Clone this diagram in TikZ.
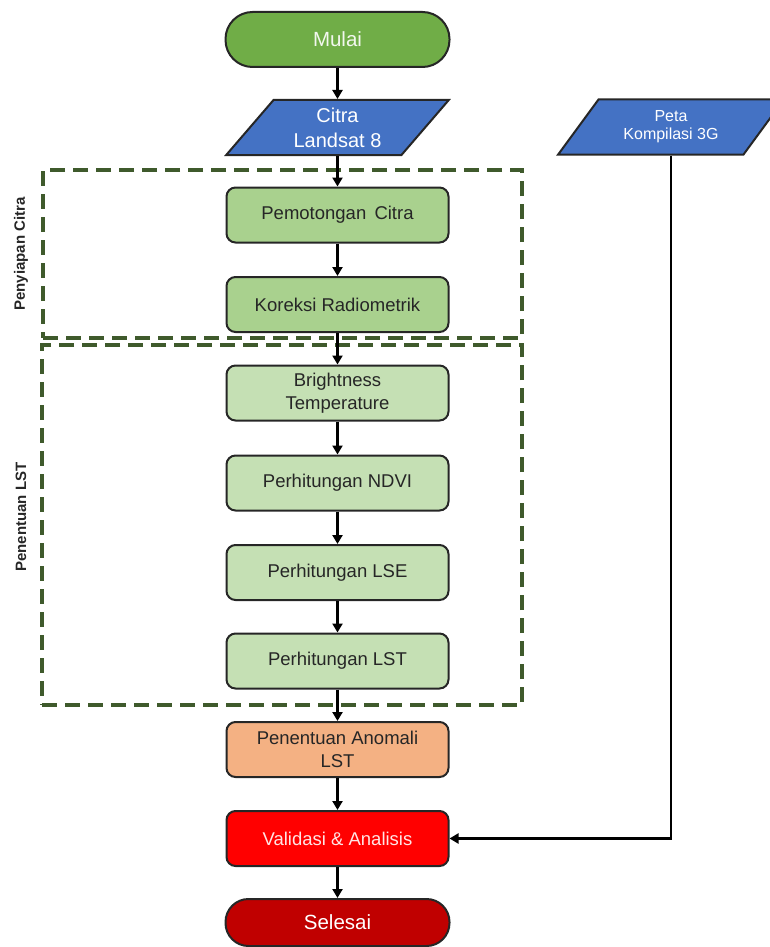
\documentclass[tikz,border=0pt]{standalone}
\usepackage{fontspec}
\setmainfont{Liberation Sans}
\usetikzlibrary{shapes.geometric,arrows.meta,calc}
\definecolor{startgreen}{HTML}{70AD47}
\definecolor{inblue}{HTML}{4472C4}
\definecolor{prepgreen}{HTML}{A9D18E}
\definecolor{lstgreen}{HTML}{C5E0B4}
\definecolor{anomorange}{HTML}{F4B183}
\definecolor{valred}{HTML}{FF0000}
\definecolor{endred}{HTML}{C00000}
\definecolor{dashgreen}{HTML}{3F5A2C}
\definecolor{txtdark}{HTML}{262626}
\definecolor{lighttxt}{HTML}{F2F7EE}
\begin{document}
\begin{tikzpicture}[x=1pt,y=-1pt,
  procbox/.style={draw=black!85, line width=2pt, rounded corners=9pt,
    minimum width=222pt, minimum height=55pt, inner sep=0pt, align=center,
    text=txtdark, font=\fontsize{18.5}{23}\selectfont},
  termbox/.style={draw=black!85, line width=2pt, rounded corners=27pt,
    minimum width=224pt, minimum height=55pt, inner sep=0pt, align=center,
    font=\fontsize{20.5}{23}\selectfont},
  iobox/.style={trapezium, trapezium left angle=50.7, trapezium right angle=129.3,
    trapezium stretches=true, minimum width=223pt, minimum height=55pt,
    draw=black!85, line width=2pt, fill=inblue, inner sep=0pt, align=center, text=white},
  groupbox/.style={draw=dashgreen, line width=3.4pt, dash pattern=on 15pt off 8pt,
    inner sep=0pt},
  grouplabel/.style={rotate=90, font=\bfseries\fontsize{15}{18}\selectfont, text=txtdark},
  flow/.style={draw=black, line width=2.4pt, -{Triangle[width=10pt,length=9pt]}},
]
\useasboundingbox (0,0) rectangle (770,947);
\clip (0,0) rectangle (770,947);
% groups
\node[groupbox, minimum width=479pt, minimum height=168pt] (grp1) at (282.5,254) {};
\node[groupbox, minimum width=480pt, minimum height=360pt] (grp2) at (282,525) {};
\node[grouplabel] (lbl1) at (21,254) {Penyiapan Citra};
\node[grouplabel] (lbl2) at (21,517) {Penentuan LST};
% nodes
\node[termbox, fill=startgreen, text=lighttxt] (mulai) at (337.5,39.5) {Mulai};
\node[iobox, font=\fontsize{20}{25}\selectfont] (citra) at (337.5,127.5) {Citra\\Landsat 8};
\node[iobox, minimum width=226pt, font=\fontsize{16}{18}\selectfont] (peta) at (671,127) {Peta\\Kompilasi 3G};
\node[procbox, fill=prepgreen] (potong) at (337.5,215) {Pemotongan\, Citra};
\node[procbox, fill=prepgreen] (koreksi) at (337.5,304.5) {Koreksi Radiometrik};
\node[procbox, fill=lstgreen] (bright) at (337.5,393) {Brightness\\Temperature};
\node[procbox, fill=lstgreen] (ndvi) at (337.5,483) {Perhitungan NDVI};
\node[procbox, fill=lstgreen] (lse) at (337.5,572.5) {Perhitungan LSE};
\node[procbox, fill=lstgreen] (lst) at (337.5,661) {Perhitungan LST};
\node[procbox, fill=anomorange] (anom) at (337.5,749.5) {Penentuan Anomali\\LST};
\node[procbox, fill=valred, text=white!90!red] (valid) at (337.5,838.5) {Validasi \& Analisis};
\node[termbox, fill=endred, text=white, minimum height=47pt, rounded corners=23pt] (selesai) at (337.5,922.5) {Selesai};
% connectors
\draw[flow] (mulai) -- (citra);
\draw[flow] (citra) -- (potong);
\draw[flow] (potong) -- (koreksi);
\draw[flow] (koreksi) -- (bright);
\draw[flow] (bright) -- (ndvi);
\draw[flow] (ndvi) -- (lse);
\draw[flow] (lse) -- (lst);
\draw[flow] (lst) -- (anom);
\draw[flow] (anom) -- (valid);
\draw[flow] (valid) -- (selesai);
\draw[flow] (peta.south) |- (valid.east);
\end{tikzpicture}
\end{document}
